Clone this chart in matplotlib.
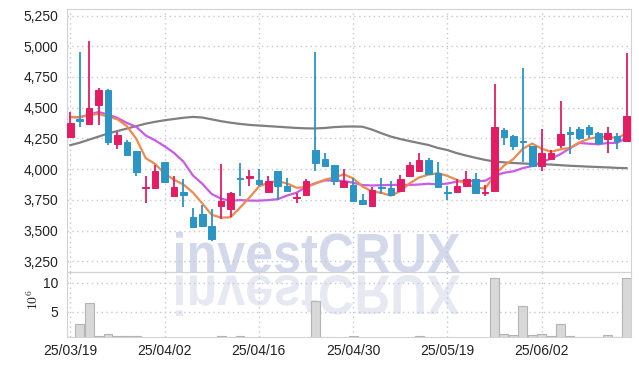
import numpy as np
import matplotlib
matplotlib.use("Agg")
import matplotlib.pyplot as plt
from matplotlib.textpath import TextPath
from matplotlib.patches import PathPatch
from matplotlib.font_manager import FontProperties
from matplotlib.transforms import Affine2D
from matplotlib.ticker import FuncFormatter

# --- Data ---
tick_pos = [0, 10, 20, 30, 40, 50]
tick_labels = ["25/03/19", "25/04/02", "25/04/16", "25/04/30", "25/05/19", "25/06/02"]

opens = [4262, 4406, 4368, 4519, 4645, 4207, 4220, 4145, 3850, 3850,
         4054, 3785, 3815, 3613, 3637, 3540, 3699, 3672, 3927, 3925,
         3911, 3812, 3981, 3866, 3765, 3793, 4153, 4086, 4032, 3858,
         3871, 3745, 3696, 3855, 3844, 3820, 3946, 3987, 4073, 3965,
         3815, 3817, 3860, 3919, 3808, 3825, 4315, 4269, 4230, 4188,
         4027, 4081, 4196, 4304, 4323, 4342, 4290, 4247, 4269, 4228]
highs = [4465, 4950, 5045, 4664, 4650, 4304, 4237, 4145, 3946, 4035,
         4054, 3946, 3919, 3683, 3704, 3675, 4040, 3810, 4046, 3995,
         4005, 3946, 3981, 3925, 3807, 3919, 4954, 4134, 4032, 4000,
         3925, 3798, 3852, 3925, 3901, 3952, 4054, 4134, 4094, 4054,
         3866, 3919, 3987, 3965, 3874, 4691, 4336, 4275, 4820, 4190,
         4323, 4156, 4556, 4344, 4342, 4363, 4304, 4344, 4290, 4949]
lows = [4250, 4344, 4363, 4363, 4194, 4162, 4107, 3941, 3726, 3845,
        3887, 3780, 3691, 3522, 3530, 3418, 3597, 3610, 3785, 3866,
        3866, 3807, 3750, 3820, 3723, 3785, 3981, 4027, 3874, 3852,
        3731, 3710, 3691, 3798, 3785, 3812, 3946, 3981, 3955, 3847,
        3745, 3812, 3852, 3798, 3785, 3820, 4196, 4153, 4054, 4025,
        3981, 4081, 4169, 4126, 4234, 4250, 4196, 4134, 4167, 4220]
closes = [4376, 4392, 4497, 4645, 4220, 4274, 4116, 3979, 3856, 3984,
          3893, 3852, 3793, 3527, 3538, 3430, 3737, 3807, 3920, 3946,
          3879, 3901, 3866, 3825, 3770, 3901, 4048, 4027, 3906, 3906,
          3737, 3712, 3833, 3845, 3793, 3917, 4032, 4073, 3960, 3852,
          3808, 3866, 3919, 3804, 3815, 4344, 4261, 4188, 4222, 4027,
          4134, 4134, 4288, 4282, 4250, 4282, 4210, 4296, 4228, 4435]
volumes = [0.69, 2.83, 6.45, 0.86, 1.10, 0.76, 0.76, 0.76, 0.55, 0.50,
           0.50, 0.50, 0.50, 0.50, 0.50, 0.50, 0.76, 0.50, 0.76, 0.50,
           0.50, 0.50, 0.50, 0.50, 0.50, 0.50, 6.80, 0.70, 0.50, 0.50,
           0.76, 0.50, 0.50, 0.50, 0.50, 0.50, 0.50, 0.76, 0.50, 0.50,
           0.50, 0.50, 0.50, 0.50, 0.50, 10.76, 1.10, 0.93, 5.98, 0.93,
           1.16, 0.80, 2.88, 0.76, 0.70, 0.70, 0.70, 0.93, 0.65, 10.76]
ma5 = [4425, 4422, 4440, 4450, 4426, 4406, 4350, 4247, 4089, 4042,
       3965, 3913, 3875, 3810, 3721, 3628, 3605, 3608, 3686, 3768,
       3858, 3891, 3902, 3883, 3848, 3853, 3882, 3914, 3930, 3958,
       3925, 3858, 3819, 3807, 3784, 3820, 3884, 3932, 3955, 3967,
       3945, 3912, 3881, 3850, 3842, 3950, 4029, 4082, 4166, 4208,
       4166, 4141, 4161, 4173, 4218, 4247, 4262, 4264, 4253, 4290]
ma10 = [4422, 4422, 4444, 4465, 4444, 4417, 4376, 4344, 4274, 4234,
        4186, 4132, 4061, 3949, 3881, 3797, 3759, 3742, 3748, 3744,
        3743, 3748, 3755, 3785, 3808, 3855, 3886, 3908, 3907, 3903,
        3889, 3870, 3867, 3869, 3871, 3872, 3871, 3875, 3881, 3875,
        3883, 3898, 3907, 3902, 3905, 3947, 3970, 3982, 4008, 4025,
        4058, 4085, 4122, 4170, 4213, 4207, 4202, 4213, 4213, 4254]
ma_long = [4195, 4215, 4240, 4265, 4290, 4310, 4330, 4350, 4370, 4385,
           4398, 4408, 4418, 4425, 4420, 4405, 4390, 4378, 4368, 4360,
           4355, 4350, 4345, 4340, 4335, 4332, 4331, 4335, 4342, 4346,
           4347, 4345, 4322, 4292, 4265, 4245, 4228, 4212, 4196, 4172,
           4155, 4130, 4110, 4092, 4075, 4062, 4055, 4050, 4046, 4042,
           4040, 4037, 4032, 4027, 4024, 4020, 4017, 4014, 4010, 4008]

# --- Style ---
plt.rcParams["font.family"] = ["Liberation Sans Narrow", "Liberation Sans", "DejaVu Sans"]
plt.rcParams["mathtext.fontset"] = "cm"
up_color = "#e31c64"
down_color = "#2b95c5"
grid_color = "#c4c7d6"
spine_color = "#d2d2d2"
text_color = "#222222"

x = np.arange(len(closes))
o = np.array(opens)
c = np.array(closes)
up = c >= o
colors = np.where(up, up_color, down_color)

fig = plt.figure(figsize=(6.39, 3.66), dpi=100)
fig.patch.set_facecolor("white")

# watermark (drawn first, behind transparent axes)
wm = fig.add_axes([0, 0, 1, 1])
wm.set_xlim(0, 639)
wm.set_ylim(0, 366)
wm.axis("off")
fp = FontProperties(family="Liberation Sans", weight="bold")
tp = TextPath((0, 0), "investCRUX", size=50, prop=fp)
ext = tp.get_extents()
sx = (460 - 176) / ext.width
sy = 41 / ext.height
base = 366 - 273
t_main = Affine2D().translate(-ext.x0, -ext.y0).scale(sx, sy).translate(176, base)
t_refl = Affine2D().translate(-ext.x0, -ext.y0).scale(sx, -sy).translate(176, base - 2)
wm.add_patch(PathPatch(t_main.transform_path(tp), facecolor="#d3d9ea", edgecolor="none"))
wm.add_patch(PathPatch(t_refl.transform_path(tp), facecolor="#e6e9f2", edgecolor="none"))

ax = fig.add_axes([0.1041, 0.256, 0.8830, 0.7186])
axv = fig.add_axes([0.1041, 0.0784, 0.8830, 0.1776], sharex=ax)
for a in (ax, axv):
    a.set_facecolor("none")
    for s in a.spines.values():
        s.set_color(spine_color)
    a.grid(True, linestyle=(0, (1, 2.5)), color=grid_color, linewidth=1.0)
    a.set_axisbelow(True)
    a.tick_params(length=0, pad=6, labelsize=10, labelcolor=text_color)

# moving averages
ax.plot(x, ma_long, color="#808080", lw=1.6, zorder=2)
ax.plot(x, ma10, color="#c95be8", lw=1.6, zorder=2)
ax.plot(x, ma5, color="#ef8a4e", lw=1.6, zorder=2)

# candles
ax.vlines(x, lows, highs, colors=colors, lw=1.3, zorder=3)
ax.bar(x, np.abs(c - o), bottom=np.minimum(o, c), width=0.7, color=colors,
       edgecolor=colors, linewidth=0.7, zorder=4)

ax.set_xlim(-0.4, 59.45)
ax.set_ylim(3160, 5301)
ax.set_yticks(np.arange(3250, 5251, 250))
ax.yaxis.set_major_formatter(FuncFormatter(lambda v, p: f"{int(v):,}"))
ax.set_xticks(tick_pos)
plt.setp(ax.get_xticklabels(), visible=False)

# volume
axv.bar(x, volumes, width=0.95, color="#d8d8d8", edgecolor="#b4b4b4", linewidth=0.8, zorder=3)
axv.set_ylim(0.6, 11.8)
axv.set_yticks([5, 10])
axv.set_xticks(tick_pos)
axv.set_xticklabels(tick_labels)
axv.tick_params(axis="x", pad=5)

fig.text(33 / 639, 1 - 300 / 366, r"$10^{6}$", rotation=90, ha="center", va="center",
         fontsize=10, color=text_color)

plt.savefig("out.png", dpi=100)
plt.close()
